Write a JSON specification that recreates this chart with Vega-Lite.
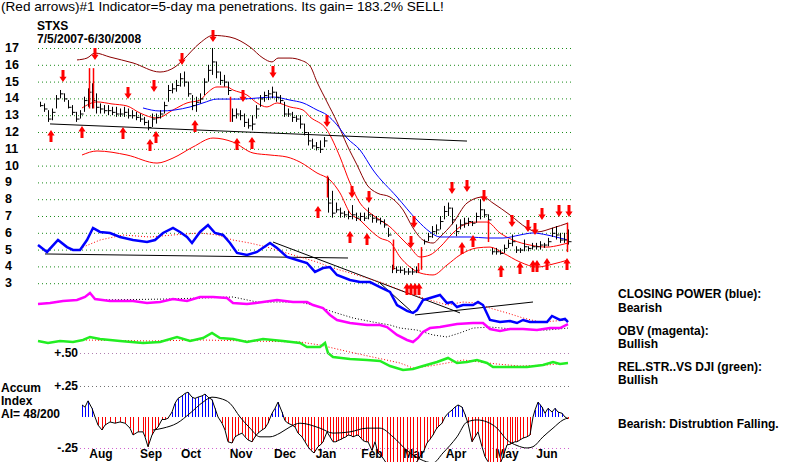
{
"$schema":"https://vega.github.io/schema/vega-lite/v6.json",
"width":800,"height":462,"padding":0,
"autosize":{"type":"fit","contains":"padding"},
"background":"white",
"config":{"view":{"stroke":null},"axis":{"disable":true},"legend":{"disable":true},"text":{"font":"Liberation Sans","fontSize":12,"fontWeight":"bold","color":"black"}},
"datasets":{
"grid":[{"v":17},{"v":16},{"v":15},{"v":14},{"v":13},{"v":12},{"v":11},{"v":10},{"v":9},{"v":8},{"v":7},{"v":6},{"v":5},{"v":4},{"v":3}],
"bars":[
{"d":1,"h":13.8,"l":13.5,"c":13.6},{"d":3,"h":13.7,"l":13.2,"c":13.4},{"d":5,"h":13.3,"l":12.6,"c":12.8},{"d":7,"h":13.4,"l":12.7,"c":13.2},{"d":9,"h":14.2,"l":13.4,"c":14.0},{"d":11,"h":14.5,"l":14.0,"c":14.3},{"d":13,"h":14.3,"l":13.8,"c":14.0},{"d":15,"h":13.9,"l":13.4,"c":13.5},{"d":17,"h":13.6,"l":13.0,"c":13.2},{"d":19,"h":13.2,"l":12.6,"c":12.8},
{"d":21,"h":13.3,"l":12.8,"c":13.1},{"d":23,"h":14.1,"l":13.2,"c":13.9},{"d":25,"h":14.6,"l":13.5,"c":14.4},{"d":27,"h":14.9,"l":13.4,"c":13.9},{"d":29,"h":14.3,"l":13.1,"c":13.5},{"d":31,"h":13.7,"l":13.1,"c":13.4},{"d":33,"h":13.6,"l":13.1,"c":13.3},{"d":35,"h":13.6,"l":13.0,"c":13.3},{"d":37,"h":13.5,"l":13.0,"c":13.2},{"d":39,"h":13.5,"l":12.9,"c":13.1},
{"d":41,"h":13.4,"l":12.9,"c":13.1},{"d":43,"h":13.5,"l":12.9,"c":13.2},{"d":45,"h":13.4,"l":12.8,"c":13.0},{"d":47,"h":13.3,"l":12.8,"c":13.0},{"d":49,"h":13.2,"l":12.7,"c":12.9},{"d":51,"h":13.1,"l":12.6,"c":12.8},{"d":53,"h":12.9,"l":12.4,"c":12.6},{"d":55,"h":12.7,"l":12.1,"c":12.3},{"d":57,"h":13.1,"l":12.3,"c":12.8},{"d":59,"h":13.1,"l":12.5,"c":12.9},
{"d":61,"h":13.3,"l":12.8,"c":13.1},{"d":63,"h":13.8,"l":13.1,"c":13.6},{"d":65,"h":14.8,"l":13.8,"c":14.5},{"d":67,"h":14.9,"l":14.3,"c":14.6},{"d":69,"h":15.1,"l":14.4,"c":14.8},{"d":71,"h":15.5,"l":14.7,"c":15.2},{"d":73,"h":15.6,"l":14.7,"c":15.0},{"d":75,"h":15.0,"l":14.1,"c":14.3},{"d":77,"h":14.2,"l":13.3,"c":13.6},{"d":79,"h":14.1,"l":13.2,"c":13.8},
{"d":81,"h":14.3,"l":13.7,"c":14.0},{"d":83,"h":15.2,"l":14.2,"c":15.0},{"d":85,"h":16.0,"l":15.0,"c":15.7},{"d":87,"h":17.0,"l":15.4,"c":16.2},{"d":89,"h":16.2,"l":15.2,"c":15.6},{"d":91,"h":15.6,"l":14.8,"c":15.1},{"d":93,"h":15.4,"l":14.7,"c":15.0},{"d":95,"h":15.0,"l":14.2,"c":14.5},{"d":97,"h":13.4,"l":12.6,"c":13.0},{"d":99,"h":13.4,"l":12.8,"c":13.1},
{"d":101,"h":13.3,"l":12.7,"c":13.0},{"d":103,"h":13.1,"l":12.3,"c":12.6},{"d":105,"h":12.8,"l":12.2,"c":12.4},{"d":107,"h":13.0,"l":12.1,"c":12.5},{"d":109,"h":13.6,"l":12.8,"c":13.4},{"d":111,"h":14.2,"l":13.5,"c":14.0},{"d":113,"h":14.4,"l":13.8,"c":14.2},{"d":115,"h":14.5,"l":13.9,"c":14.3},{"d":117,"h":14.7,"l":14.0,"c":14.4},{"d":119,"h":14.4,"l":13.8,"c":14.1},
{"d":121,"h":14.2,"l":13.7,"c":13.9},{"d":123,"h":13.8,"l":12.9,"c":13.1},{"d":125,"h":13.4,"l":12.9,"c":13.1},{"d":127,"h":13.2,"l":12.6,"c":12.9},{"d":129,"h":13.0,"l":12.6,"c":12.8},{"d":131,"h":13.0,"l":12.2,"c":12.5},{"d":133,"h":12.5,"l":11.8,"c":12.0},{"d":135,"h":12.0,"l":11.2,"c":11.5},{"d":137,"h":11.6,"l":11.0,"c":11.2},{"d":139,"h":11.4,"l":10.9,"c":11.1},
{"d":141,"h":11.5,"l":10.75,"c":11.0},{"d":143,"h":11.7,"l":11.1,"c":11.5},{"d":145,"h":9.3,"l":7.2,"c":7.8},{"d":147,"h":8.5,"l":6.9,"c":7.2},{"d":149,"h":7.8,"l":7.2,"c":7.4},{"d":151,"h":7.5,"l":6.9,"c":7.2},{"d":153,"h":7.3,"l":6.9,"c":7.1},{"d":155,"h":7.3,"l":6.8,"c":7.0},{"d":157,"h":7.65,"l":6.8,"c":7.1},{"d":159,"h":7.2,"l":6.7,"c":6.9},
{"d":161,"h":7.2,"l":6.7,"c":7.0},{"d":163,"h":7.2,"l":6.7,"c":6.9},{"d":165,"h":7.5,"l":6.8,"c":7.1},{"d":167,"h":7.1,"l":6.6,"c":6.9},{"d":169,"h":7.0,"l":6.6,"c":6.8},{"d":171,"h":6.9,"l":6.5,"c":6.7},{"d":173,"h":6.8,"l":6.3,"c":6.5},{"d":175,"h":6.3,"l":5.75,"c":5.9},{"d":177,"h":4.1,"l":3.6,"c":3.9},{"d":179,"h":4.0,"l":3.6,"c":3.8},
{"d":181,"h":4.0,"l":3.6,"c":3.8},{"d":183,"h":3.9,"l":3.5,"c":3.7},{"d":185,"h":3.9,"l":3.5,"c":3.7},{"d":187,"h":3.9,"l":3.5,"c":3.7},{"d":189,"h":4.0,"l":3.6,"c":3.8},{"d":193,"h":5.6,"l":5.3,"c":5.5},{"d":195,"h":6.0,"l":5.5,"c":5.8},{"d":197,"h":6.4,"l":5.7,"c":6.1},{"d":199,"h":6.5,"l":5.9,"c":6.2},
{"d":201,"h":7.0,"l":6.2,"c":6.7},{"d":203,"h":7.6,"l":6.8,"c":7.3},{"d":205,"h":7.8,"l":7.0,"c":7.5},{"d":207,"h":7.5,"l":6.5,"c":6.8},{"d":209,"h":6.5,"l":5.8,"c":6.1},{"d":211,"h":6.8,"l":6.2,"c":6.5},{"d":213,"h":6.9,"l":6.3,"c":6.6},{"d":215,"h":6.9,"l":6.4,"c":6.7},{"d":217,"h":6.7,"l":6.4,"c":6.6},{"d":219,"h":7.2,"l":6.6,"c":7.0},
{"d":221,"h":8.0,"l":6.8,"c":7.4},{"d":223,"h":7.4,"l":6.9,"c":7.1},{"d":225,"h":7.1,"l":6.5,"c":6.8},{"d":227,"h":5.1,"l":4.7,"c":4.9},{"d":229,"h":5.1,"l":4.7,"c":4.9},{"d":231,"h":5.0,"l":4.7,"c":4.8},{"d":233,"h":5.3,"l":4.8,"c":5.1},{"d":235,"h":5.6,"l":5.1,"c":5.4},{"d":237,"h":5.9,"l":5.2,"c":5.5},{"d":239,"h":5.2,"l":4.8,"c":5.0},
{"d":241,"h":5.1,"l":4.8,"c":5.0},{"d":243,"h":5.6,"l":4.9,"c":5.2},{"d":245,"h":5.2,"l":4.9,"c":5.1},{"d":247,"h":5.4,"l":5.0,"c":5.2},{"d":249,"h":5.4,"l":5.0,"c":5.2},{"d":251,"h":5.5,"l":5.0,"c":5.3},{"d":253,"h":5.4,"l":5.1,"c":5.3},{"d":255,"h":5.7,"l":5.2,"c":5.5},{"d":257,"h":6.3,"l":5.75,"c":6.0},{"d":259,"h":6.4,"l":5.6,"c":5.9},
{"d":261,"h":6.0,"l":5.4,"c":5.6},{"d":263,"h":6.0,"l":5.4,"c":5.6},{"d":265,"h":6.2,"l":5.3,"c":5.5}],
"redbars":[{"d":25.5,"h":15.8,"l":13.4},{"d":27.5,"h":15.8,"l":13.4},{"d":96,"h":14.1,"l":12.6},{"d":144.5,"h":9.4,"l":8.1},{"d":177.5,"h":5.6,"l":3.8},{"d":190,"h":4.2,"l":3.6},{"d":191.5,"h":5.15,"l":3.8},{"d":225,"h":6.76,"l":5.45},{"d":264.5,"h":6.6,"l":4.85}],
"thin":[
{"s":"upper","d":19.5,"v":16.29},{"s":"upper","d":24.5,"v":16.4},{"s":"upper","d":28.5,"v":16.7},{"s":"upper","d":36,"v":16.46},{"s":"upper","d":47.5,"v":16.11},{"s":"upper","d":61,"v":15.57},{"s":"upper","d":68.5,"v":15.87},{"s":"upper","d":72.5,"v":16.29},{"s":"upper","d":81,"v":17.3},{"s":"upper","d":87.5,"v":17.75},{"s":"upper","d":96,"v":17.65},{"s":"upper","d":106,"v":17.06},{"s":"upper","d":112.5,"v":16.4},{"s":"upper","d":117,"v":16.17},{"s":"upper","d":120,"v":16.4},{"s":"upper","d":126,"v":16.4},{"s":"upper","d":131,"v":16.29},{"s":"upper","d":136,"v":15.93},{"s":"upper","d":139.5,"v":14.98},{"s":"upper","d":144.5,"v":13.79},{"s":"upper","d":149.5,"v":12.6},{"s":"upper","d":154.5,"v":11.23},{"s":"upper","d":159.5,"v":10.04},{"s":"upper","d":164.5,"v":8.85},{"s":"upper","d":169.5,"v":8.37},{"s":"upper","d":176,"v":8.13},{"s":"upper","d":182.5,"v":7.36},{"s":"upper","d":187.5,"v":6.29},{"s":"upper","d":192.5,"v":5.57},{"s":"upper","d":197.5,"v":5.39},{"s":"upper","d":201,"v":5.75},{"s":"upper","d":207.5,"v":6.58},{"s":"upper","d":214.5,"v":7.77},{"s":"upper","d":222.5,"v":8.13},{"s":"upper","d":227.5,"v":7.77},{"s":"upper","d":236,"v":7.06},{"s":"upper","d":244.5,"v":6.29},{"s":"upper","d":249.5,"v":6.05},{"s":"upper","d":257.5,"v":6.29},{"s":"upper","d":265,"v":6.58},
{"s":"ma","d":22,"v":13.43},{"s":"ma","d":29.5,"v":13.79},{"s":"ma","d":37,"v":13.67},{"s":"ma","d":44.5,"v":13.55},{"s":"ma","d":51,"v":13.13},{"s":"ma","d":59.5,"v":12.83},{"s":"ma","d":67.5,"v":13.31},{"s":"ma","d":74.5,"v":13.73},{"s":"ma","d":81,"v":13.9},{"s":"ma","d":84.5,"v":14.32},{"s":"ma","d":89.5,"v":14.68},{"s":"ma","d":94.5,"v":14.68},{"s":"ma","d":97.5,"v":14.5},{"s":"ma","d":104.5,"v":14.2},{"s":"ma","d":109.5,"v":13.73},{"s":"ma","d":114.5,"v":13.49},{"s":"ma","d":119.5,"v":13.73},{"s":"ma","d":126,"v":13.49},{"s":"ma","d":132.5,"v":13.31},{"s":"ma","d":136,"v":12.9},{"s":"ma","d":144.5,"v":12.12},{"s":"ma","d":151,"v":10.51},{"s":"ma","d":156,"v":8.96},{"s":"ma","d":161,"v":7.77},{"s":"ma","d":166,"v":7.18},{"s":"ma","d":171,"v":6.76},{"s":"ma","d":176,"v":6.35},{"s":"ma","d":181,"v":5.75},{"s":"ma","d":186,"v":5.15},{"s":"ma","d":191,"v":4.56},{"s":"ma","d":196,"v":4.68},{"s":"ma","d":201,"v":5.15},{"s":"ma","d":207.5,"v":5.99},{"s":"ma","d":212.5,"v":6.46},{"s":"ma","d":219.5,"v":6.64},{"s":"ma","d":224.5,"v":6.64},{"s":"ma","d":231,"v":5.99},{"s":"ma","d":237.5,"v":5.57},{"s":"ma","d":246,"v":5.27},{"s":"ma","d":254.5,"v":5.15},{"s":"ma","d":261,"v":5.27},{"s":"ma","d":265,"v":5.39},
{"s":"lower","d":22,"v":10.63},{"s":"lower","d":29.5,"v":10.87},{"s":"lower","d":44.5,"v":10.63},{"s":"lower","d":59.5,"v":10.15},{"s":"lower","d":67.5,"v":10.45},{"s":"lower","d":77.5,"v":11.11},{"s":"lower","d":87.5,"v":11.64},{"s":"lower","d":97.5,"v":11.4},{"s":"lower","d":107.5,"v":10.75},{"s":"lower","d":116,"v":10.63},{"s":"lower","d":124.5,"v":10.51},{"s":"lower","d":131,"v":10.21},{"s":"lower","d":139.5,"v":9.56},{"s":"lower","d":146,"v":9.14},{"s":"lower","d":151,"v":8.37},{"s":"lower","d":156,"v":7.18},{"s":"lower","d":161,"v":6.76},{"s":"lower","d":166,"v":6.17},{"s":"lower","d":171,"v":5.69},{"s":"lower","d":176,"v":5.45},{"s":"lower","d":181,"v":4.56},{"s":"lower","d":186,"v":3.96},{"s":"lower","d":191,"v":3.61},{"s":"lower","d":197.5,"v":3.49},{"s":"lower","d":204.5,"v":4.08},{"s":"lower","d":211,"v":4.68},{"s":"lower","d":219.5,"v":5.1},{"s":"lower","d":226,"v":5.15},{"s":"lower","d":232.5,"v":4.8},{"s":"lower","d":241,"v":4.26},{"s":"lower","d":249.5,"v":3.96},{"s":"lower","d":257.5,"v":4.14},{"s":"lower","d":265,"v":4.38},
{"s":"bma","d":52.5,"v":13.43},{"s":"bma","d":61,"v":13.25},{"s":"bma","d":76,"v":13.49},{"s":"bma","d":82.5,"v":13.73},{"s":"bma","d":89.5,"v":13.96},{"s":"bma","d":101,"v":13.96},{"s":"bma","d":109.5,"v":14.02},{"s":"bma","d":117.5,"v":14.08},{"s":"bma","d":126,"v":13.9},{"s":"bma","d":132.5,"v":13.73},{"s":"bma","d":139.5,"v":13.31},{"s":"bma","d":144.5,"v":13.01},{"s":"bma","d":149.5,"v":12.42},{"s":"bma","d":154.5,"v":11.64},{"s":"bma","d":161,"v":10.93},{"s":"bma","d":167.5,"v":9.74},{"s":"bma","d":179.5,"v":8.13},{"s":"bma","d":189.5,"v":6.76},{"s":"bma","d":196,"v":6.05},{"s":"bma","d":201,"v":5.75},{"s":"bma","d":207.5,"v":5.75},{"s":"bma","d":216,"v":5.75},{"s":"bma","d":224.5,"v":5.69},{"s":"bma","d":232.5,"v":5.69},{"s":"bma","d":241,"v":5.87},{"s":"bma","d":247.5,"v":5.99},{"s":"bma","d":254.5,"v":5.87},{"s":"bma","d":261,"v":5.69},{"s":"bma","d":265,"v":5.57}],
"thick":[
{"s":"cp","d":0,"v":5.27},{"s":"cp","d":4.5,"v":4.86},{"s":"cp","d":10,"v":5.57},{"s":"cp","d":14.5,"v":5.15},{"s":"cp","d":17.5,"v":4.98},{"s":"cp","d":21,"v":4.98},{"s":"cp","d":24.5,"v":5.57},{"s":"cp","d":27.5,"v":6.29},{"s":"cp","d":31,"v":6.05},{"s":"cp","d":36,"v":5.99},{"s":"cp","d":41,"v":5.75},{"s":"cp","d":47.5,"v":5.57},{"s":"cp","d":54.5,"v":5.45},{"s":"cp","d":58.5,"v":5.57},{"s":"cp","d":62.5,"v":5.99},{"s":"cp","d":67.5,"v":6.29},{"s":"cp","d":71,"v":6.05},{"s":"cp","d":74.5,"v":5.75},{"s":"cp","d":77,"v":5.39},{"s":"cp","d":81,"v":6.05},{"s":"cp","d":85,"v":6.46},{"s":"cp","d":88.5,"v":5.99},{"s":"cp","d":92.5,"v":5.87},{"s":"cp","d":96,"v":5.39},{"s":"cp","d":99.5,"v":4.8},{"s":"cp","d":104.5,"v":4.68},{"s":"cp","d":109.5,"v":4.86},{"s":"cp","d":116,"v":5.39},{"s":"cp","d":119.5,"v":5.1},{"s":"cp","d":124.5,"v":4.56},{"s":"cp","d":129.5,"v":4.38},{"s":"cp","d":134.5,"v":4.2},{"s":"cp","d":138.5,"v":3.67},{"s":"cp","d":142.5,"v":3.9},{"s":"cp","d":146,"v":3.96},{"s":"cp","d":149.5,"v":3.49},{"s":"cp","d":156,"v":3.19},{"s":"cp","d":161,"v":3.07},{"s":"cp","d":166,"v":3.07},{"s":"cp","d":171,"v":2.77},{"s":"cp","d":176,"v":2.48},{"s":"cp","d":179.5,"v":1.7},{"s":"cp","d":184.5,"v":1.35},{"s":"cp","d":187.5,"v":1.23},{"s":"cp","d":189.5,"v":1.4},{"s":"cp","d":192.5,"v":2.0},{"s":"cp","d":196,"v":2.12},{"s":"cp","d":201,"v":2.3},{"s":"cp","d":204.5,"v":1.82},{"s":"cp","d":207,"v":1.88},{"s":"cp","d":209.5,"v":1.58},{"s":"cp","d":212.5,"v":1.7},{"s":"cp","d":217.5,"v":1.7},{"s":"cp","d":220,"v":1.88},{"s":"cp","d":222.5,"v":1.7},{"s":"cp","d":226,"v":0.81},{"s":"cp","d":231,"v":0.69},{"s":"cp","d":236,"v":0.75},{"s":"cp","d":239.5,"v":0.63},{"s":"cp","d":242.5,"v":0.81},{"s":"cp","d":246,"v":0.69},{"s":"cp","d":251,"v":0.69},{"s":"cp","d":254.5,"v":0.69},{"s":"cp","d":257,"v":1.05},{"s":"cp","d":261,"v":0.81},{"s":"cp","d":263.5,"v":0.87},{"s":"cp","d":265,"v":0.69},
{"s":"obv","d":0,"v":1.76},{"s":"obv","d":6,"v":1.82},{"s":"obv","d":12.5,"v":1.94},{"s":"obv","d":19.5,"v":2.0},{"s":"obv","d":23.5,"v":2.18},{"s":"obv","d":26,"v":2.42},{"s":"obv","d":28.5,"v":2.06},{"s":"obv","d":36,"v":1.94},{"s":"obv","d":47.5,"v":1.94},{"s":"obv","d":54.5,"v":1.82},{"s":"obv","d":61,"v":1.88},{"s":"obv","d":67.5,"v":2.06},{"s":"obv","d":74.5,"v":1.94},{"s":"obv","d":81,"v":2.18},{"s":"obv","d":87.5,"v":2.18},{"s":"obv","d":94.5,"v":2.12},{"s":"obv","d":97.5,"v":1.82},{"s":"obv","d":104.5,"v":1.76},{"s":"obv","d":112.5,"v":1.88},{"s":"obv","d":119.5,"v":2.0},{"s":"obv","d":127.5,"v":1.88},{"s":"obv","d":134.5,"v":1.88},{"s":"obv","d":137.5,"v":1.7},{"s":"obv","d":142.5,"v":1.52},{"s":"obv","d":146,"v":1.11},{"s":"obv","d":149.5,"v":0.81},{"s":"obv","d":156,"v":0.63},{"s":"obv","d":164.5,"v":0.51},{"s":"obv","d":171,"v":0.51},{"s":"obv","d":174.5,"v":0.39},{"s":"obv","d":179.5,"v":-0.08},{"s":"obv","d":184.5,"v":-0.38},{"s":"obv","d":187.5,"v":-0.5},{"s":"obv","d":190,"v":-0.26},{"s":"obv","d":192.5,"v":0.1},{"s":"obv","d":196,"v":0.33},{"s":"obv","d":201,"v":0.39},{"s":"obv","d":209.5,"v":0.57},{"s":"obv","d":217.5,"v":0.63},{"s":"obv","d":222.5,"v":0.63},{"s":"obv","d":226,"v":0.27},{"s":"obv","d":231,"v":0.15},{"s":"obv","d":236,"v":0.27},{"s":"obv","d":242.5,"v":0.27},{"s":"obv","d":249.5,"v":0.21},{"s":"obv","d":256,"v":0.33},{"s":"obv","d":261,"v":0.33},{"s":"obv","d":265,"v":0.57},
{"s":"rs","d":0,"v":-0.44},{"s":"rs","d":5,"v":-0.56},{"s":"rs","d":11,"v":-0.44},{"s":"rs","d":17.5,"v":-0.5},{"s":"rs","d":22.5,"v":-0.38},{"s":"rs","d":26,"v":-0.2},{"s":"rs","d":31,"v":-0.32},{"s":"rs","d":41,"v":-0.44},{"s":"rs","d":52.5,"v":-0.56},{"s":"rs","d":61,"v":-0.5},{"s":"rs","d":69.5,"v":-0.2},{"s":"rs","d":76,"v":-0.44},{"s":"rs","d":82.5,"v":-0.26},{"s":"rs","d":87,"v":0.04},{"s":"rs","d":91,"v":-0.26},{"s":"rs","d":97.5,"v":-0.32},{"s":"rs","d":104.5,"v":-0.5},{"s":"rs","d":112.5,"v":-0.32},{"s":"rs","d":122.5,"v":-0.44},{"s":"rs","d":131,"v":-0.56},{"s":"rs","d":134.5,"v":-0.8},{"s":"rs","d":141,"v":-0.8},{"s":"rs","d":143.5,"v":-0.56},{"s":"rs","d":145,"v":-1.15},{"s":"rs","d":147.5,"v":-1.39},{"s":"rs","d":156,"v":-1.51},{"s":"rs","d":164.5,"v":-1.57},{"s":"rs","d":171,"v":-1.63},{"s":"rs","d":176,"v":-1.93},{"s":"rs","d":182.5,"v":-2.17},{"s":"rs","d":187.5,"v":-2.11},{"s":"rs","d":192.5,"v":-1.93},{"s":"rs","d":199.5,"v":-1.69},{"s":"rs","d":205,"v":-1.45},{"s":"rs","d":209.5,"v":-1.75},{"s":"rs","d":214.5,"v":-1.69},{"s":"rs","d":219.5,"v":-1.57},{"s":"rs","d":224.5,"v":-1.75},{"s":"rs","d":227.5,"v":-1.99},{"s":"rs","d":234.5,"v":-1.99},{"s":"rs","d":244.5,"v":-1.99},{"s":"rs","d":252.5,"v":-1.87},{"s":"rs","d":257.5,"v":-1.69},{"s":"rs","d":261,"v":-1.81},{"s":"rs","d":265,"v":-1.75}],
"dotted":[
{"s":"cpma","d":22.5,"v":5.15},{"s":"cpma","d":31,"v":5.57},{"s":"cpma","d":42.5,"v":5.87},{"s":"cpma","d":56,"v":5.75},{"s":"cpma","d":67.5,"v":5.87},{"s":"cpma","d":81,"v":5.99},{"s":"cpma","d":89.5,"v":5.87},{"s":"cpma","d":97.5,"v":5.57},{"s":"cpma","d":106,"v":5.39},{"s":"cpma","d":114.5,"v":5.15},{"s":"cpma","d":122.5,"v":4.86},{"s":"cpma","d":131,"v":4.56},{"s":"cpma","d":139.5,"v":4.26},{"s":"cpma","d":147.5,"v":3.9},{"s":"cpma","d":156,"v":3.61},{"s":"cpma","d":164.5,"v":3.31},{"s":"cpma","d":172.5,"v":3.01},{"s":"cpma","d":181,"v":2.6},{"s":"cpma","d":187.5,"v":2.3},{"s":"cpma","d":196,"v":2.0},{"s":"cpma","d":204.5,"v":1.7},{"s":"cpma","d":212.5,"v":1.88},{"s":"cpma","d":219.5,"v":1.82},{"s":"cpma","d":226,"v":1.52},{"s":"cpma","d":234.5,"v":1.23},{"s":"cpma","d":242.5,"v":0.93},{"s":"cpma","d":251,"v":0.69},{"s":"cpma","d":258.5,"v":0.75},{"s":"cpma","d":265,"v":0.81},
{"s":"obvma","d":31,"v":2.0},{"s":"obvma","d":66,"v":2.06},{"s":"obvma","d":97.5,"v":2.18},{"s":"obvma","d":109.5,"v":1.88},{"s":"obvma","d":131,"v":1.88},{"s":"obvma","d":141,"v":1.58},{"s":"obvma","d":147.5,"v":1.29},{"s":"obvma","d":157.5,"v":0.93},{"s":"obvma","d":167.5,"v":0.69},{"s":"obvma","d":176,"v":0.51},{"s":"obvma","d":181,"v":0.33},{"s":"obvma","d":189.5,"v":0.21},{"s":"obvma","d":197.5,"v":-0.08},{"s":"obvma","d":204.5,"v":-0.2},{"s":"obvma","d":211,"v":0.04},{"s":"obvma","d":217.5,"v":0.33},{"s":"obvma","d":226,"v":0.39},{"s":"obvma","d":237.5,"v":0.27},{"s":"obvma","d":254.5,"v":0.21},{"s":"obvma","d":265,"v":0.33},
{"s":"rsma","d":22.5,"v":-0.38},{"s":"rsma","d":56,"v":-0.44},{"s":"rsma","d":81,"v":-0.38},{"s":"rsma","d":106,"v":-0.44},{"s":"rsma","d":131,"v":-0.5},{"s":"rsma","d":141,"v":-0.68},{"s":"rsma","d":156,"v":-1.1},{"s":"rsma","d":169.5,"v":-1.45},{"s":"rsma","d":181,"v":-1.75},{"s":"rsma","d":187.5,"v":-2.05},{"s":"rsma","d":196,"v":-1.93},{"s":"rsma","d":204.5,"v":-1.75},{"s":"rsma","d":212.5,"v":-1.57},{"s":"rsma","d":221,"v":-1.69},{"s":"rsma","d":229.5,"v":-1.81},{"s":"rsma","d":241,"v":-1.93},{"s":"rsma","d":254.5,"v":-1.87},{"s":"rsma","d":265,"v":-1.75}],
"segs":[{"d":6,"v":12.48,"d2":214.5,"v2":11.46},{"d":3.5,"v":4.74,"d2":155,"v2":4.5},{"d":117.5,"v":5.45,"d2":211,"v2":1.23},{"d":171,"v":3.01,"d2":187.5,"v2":1.23},{"d":188.5,"v":1.11,"d2":247.5,"v2":1.88}],
"arrows":[
{"dir":"down","d":12.5,"v":15.33},{"dir":"down","d":28.5,"v":16.64},{"dir":"down","d":45,"v":14.32},{"dir":"down","d":58,"v":14.74},{"dir":"down","d":72,"v":16.35},{"dir":"down","d":87.5,"v":17.71},{"dir":"down","d":102.5,"v":14.14},{"dir":"down","d":117.5,"v":15.57},{"dir":"down","d":144.5,"v":12.65},{"dir":"down","d":157,"v":8.43},{"dir":"down","d":165.5,"v":8.13},{"dir":"down","d":188,"v":6.64},{"dir":"down","d":186.5,"v":5.45},{"dir":"down","d":207,"v":8.67},{"dir":"down","d":214.5,"v":8.79},{"dir":"down","d":223,"v":8.19},{"dir":"down","d":237,"v":6.7},{"dir":"down","d":245,"v":6.4},{"dir":"down","d":248.5,"v":6.23},{"dir":"down","d":252,"v":7.12},{"dir":"down","d":260.5,"v":7.3},{"dir":"down","d":265.5,"v":7.3},
{"dir":"up","d":6.5,"v":11.76},{"dir":"up","d":22,"v":12.0},{"dir":"up","d":42.5,"v":11.94},{"dir":"up","d":56,"v":11.23},{"dir":"up","d":59,"v":11.7},{"dir":"up","d":78.5,"v":12.36},{"dir":"up","d":99.5,"v":11.29},{"dir":"up","d":107,"v":11.35},{"dir":"up","d":140,"v":7.24},{"dir":"up","d":156,"v":5.75},{"dir":"up","d":164.5,"v":5.63},{"dir":"up","d":184.5,"v":2.65},{"dir":"up","d":186.5,"v":2.65},{"dir":"up","d":188.5,"v":2.65},{"dir":"up","d":190.5,"v":2.65},{"dir":"up","d":212,"v":5.09},{"dir":"up","d":217.5,"v":5.51},{"dir":"up","d":231.5,"v":3.73},{"dir":"up","d":241,"v":3.9},{"dir":"up","d":247.5,"v":4.02},{"dir":"up","d":249.5,"v":4.02},{"dir":"up","d":254.5,"v":4.14},{"dir":"up","d":264.5,"v":4.14}],
"title":[{"t":"(Red arrows)#1 Indicator=5-day ma penetrations. Its gain= 183.2% SELL!","d":-18.5,"v":19.2}],
"labels":[{"t":"STXS","d":-0.5,"v":18.07},{"t":"7/5/2007-6/30/2008","d":-0.5,"v":17.32},{"t":"Accum","d":-18.5,"v":-3.476},{"t":"Index","d":-18.5,"v":-4.25},{"t":"AI= 48/200","d":-18.5,"v":-5.02},{"t":"CLOSING POWER (blue):","d":290,"v":2.12},{"t":"Bearish","d":290,"v":1.29},{"t":"OBV (magenta):","d":290,"v":-0.08},{"t":"Bullish","d":290,"v":-0.86},{"t":"REL.STR..VS DJI (green):","d":290,"v":-2.23},{"t":"Bullish","d":290,"v":-3.0},{"t":"Bearish: Distrubtion Falling.","d":290,"v":-5.62}],
"months":[{"m":"Aug","d":31.5},{"m":"Sep","d":56.5},{"m":"Oct","d":76.5},{"m":"Nov","d":101.5},{"m":"Dec","d":123.5},{"m":"Jan","d":144},{"m":"Feb","d":167},{"m":"Mar","d":188},{"m":"Apr","d":209},{"m":"May","d":234.5},{"m":"Jun","d":254.5}],
"ailev":[{"lbl":"+.50","a":0.516},{"lbl":"+.25","a":0.25},{"lbl":"-.25","a":-0.25}],
"ai":[{"d":22,"a":0.097},{"d":23.5,"a":0.08},{"d":25,"a":0.13},{"d":27,"a":0.07},{"d":28.5,"a":0.0},{"d":30,"a":-0.065},{"d":32,"a":-0.105},{"d":33.5,"a":-0.065},{"d":36,"a":-0.04},{"d":38.5,"a":-0.05},{"d":41,"a":-0.04},{"d":43.5,"a":-0.05},{"d":46,"a":-0.09},{"d":47.5,"a":-0.145},{"d":50,"a":-0.12},{"d":52.5,"a":-0.12},{"d":53.5,"a":-0.16},{"d":55,"a":-0.24},{"d":57,"a":-0.145},{"d":58.5,"a":-0.105},{"d":60,"a":-0.08},{"d":62,"a":-0.02},{"d":63.5,"a":-0.02},{"d":65,"a":-0.01},{"d":67,"a":0.04},{"d":68.5,"a":0.11},{"d":70,"a":0.15},{"d":72,"a":0.17},{"d":73.5,"a":0.19},{"d":75,"a":0.2},{"d":77,"a":0.16},{"d":78.5,"a":0.15},{"d":80,"a":0.16},{"d":82,"a":0.17},{"d":83.5,"a":0.185},{"d":85,"a":0.16},{"d":87,"a":0.14},{"d":88.5,"a":0.07},{"d":90,"a":0.0},{"d":92,"a":-0.05},{"d":93.5,"a":-0.105},{"d":95,"a":-0.2},{"d":97,"a":-0.21},{"d":98.5,"a":-0.16},{"d":100,"a":-0.145},{"d":102,"a":-0.13},{"d":103.5,"a":-0.16},{"d":105,"a":-0.185},{"d":107,"a":-0.2},{"d":108.5,"a":-0.16},{"d":110,"a":-0.13},{"d":112,"a":-0.105},{"d":113.5,"a":-0.09},{"d":115,"a":-0.05},{"d":117,"a":0.03},{"d":118.5,"a":0.07},{"d":120,"a":0.12},{"d":122,"a":0.04},{"d":123.5,"a":-0.03},{"d":125,"a":-0.05},{"d":127,"a":-0.065},{"d":128.5,"a":-0.08},{"d":130,"a":-0.13},{"d":132,"a":-0.16},{"d":133.5,"a":-0.2},{"d":135,"a":-0.24},{"d":136.5,"a":-0.27},{"d":138,"a":-0.29},{"d":140,"a":-0.24},{"d":141.5,"a":-0.22},{"d":142.5,"a":-0.2},{"d":144.5,"a":-0.12},{"d":146,"a":-0.16},{"d":147.5,"a":-0.2},{"d":149,"a":-0.2},{"d":150,"a":-0.19},{"d":151.5,"a":-0.18},{"d":152.5,"a":-0.17},{"d":154,"a":-0.16},{"d":155,"a":-0.145},{"d":156.5,"a":-0.15},{"d":157.5,"a":-0.16},{"d":159,"a":-0.15},{"d":160,"a":-0.145},{"d":161.5,"a":-0.17},{"d":162.5,"a":-0.19},{"d":164,"a":-0.2},{"d":165,"a":-0.2},{"d":167,"a":-0.27},{"d":168.5,"a":-0.2},{"d":170,"a":-0.29},{"d":172,"a":-0.32},{"d":174.5,"a":-0.38},{"d":176,"a":-0.38},{"d":177.5,"a":-0.38},{"d":179.5,"a":-0.38},{"d":181,"a":-0.38},{"d":182.5,"a":-0.38},{"d":184.5,"a":-0.38},{"d":186,"a":-0.38},{"d":187.5,"a":-0.38},{"d":189.5,"a":-0.36},{"d":191,"a":-0.32},{"d":193,"a":-0.27},{"d":194.5,"a":-0.21},{"d":196,"a":-0.18},{"d":197.5,"a":-0.145},{"d":199,"a":-0.1},{"d":200,"a":-0.08},{"d":202,"a":-0.05},{"d":203.5,"a":0.0},{"d":205,"a":0.03},{"d":207,"a":0.056},{"d":208.5,"a":0.08},{"d":210,"a":0.097},{"d":212,"a":0.08},{"d":213.5,"a":0.02},{"d":215,"a":-0.05},{"d":217,"a":-0.2},{"d":218.5,"a":-0.16},{"d":220,"a":-0.12},{"d":222,"a":-0.24},{"d":223.5,"a":-0.32},{"d":225,"a":-0.36},{"d":226,"a":-0.38},{"d":227.5,"a":-0.38},{"d":229.5,"a":-0.38},{"d":231,"a":-0.38},{"d":232.5,"a":-0.32},{"d":234.5,"a":-0.225},{"d":236,"a":-0.22},{"d":237,"a":-0.21},{"d":238.5,"a":-0.2},{"d":239.5,"a":-0.2},{"d":241,"a":-0.185},{"d":242.5,"a":-0.17},{"d":244.5,"a":-0.16},{"d":246,"a":-0.145},{"d":247.5,"a":0.0},{"d":248.5,"a":0.056},{"d":250,"a":0.12},{"d":251,"a":0.1},{"d":252,"a":0.08},{"d":253.5,"a":0.03},{"d":255,"a":0.07},{"d":257,"a":0.04},{"d":258.5,"a":0.07},{"d":260,"a":0.04},{"d":262,"a":0.03},{"d":263.5,"a":0.0},{"d":265,"a":-0.015}],
"aima":[{"d":57.5,"a":-0.105},{"d":62.5,"a":-0.09},{"d":69.5,"a":-0.05},{"d":76,"a":0.03},{"d":82.5,"a":0.12},{"d":87,"a":0.16},{"d":91,"a":0.15},{"d":96,"a":0.11},{"d":101,"a":0.0},{"d":106,"a":-0.09},{"d":111,"a":-0.16},{"d":116,"a":-0.16},{"d":121,"a":-0.13},{"d":126,"a":-0.08},{"d":131,"a":-0.05},{"d":141,"a":-0.09},{"d":147.5,"a":-0.13},{"d":156,"a":-0.12},{"d":164.5,"a":-0.09},{"d":171,"a":-0.09},{"d":177.5,"a":-0.16},{"d":184.5,"a":-0.27},{"d":191,"a":-0.34},{"d":197.5,"a":-0.37},{"d":202.5,"a":-0.29},{"d":209.5,"a":-0.16},{"d":214.5,"a":-0.04},{"d":219.5,"a":-0.024},{"d":224.5,"a":-0.04},{"d":229.5,"a":-0.09},{"d":234.5,"a":-0.185},{"d":239.5,"a":-0.23},{"d":244.5,"a":-0.25},{"d":247.5,"a":-0.24},{"d":252.5,"a":-0.16},{"d":257.5,"a":-0.09},{"d":262.5,"a":-0.024},{"d":265,"a":-0.008}]
},
"resolve":{"scale":{"y":"independent","color":"independent","shape":"independent"}},
"layer":[
{"resolve":{"scale":{"color":"independent"}},
 "layer":[
 {"data":{"name":"grid"},"mark":{"type":"rule","color":"#1a8a1a","strokeDash":[1,3],"strokeWidth":1,"yOffset":0.5},
  "encoding":{"x":{"datum":0,"type":"quantitative","scale":{"domain":[-19,381],"nice":false,"zero":false}},"x2":{"datum":267},
   "y":{"field":"v","type":"quantitative","scale":{"domain":[-7.643,19.857],"nice":false,"zero":false}}}},
 {"data":{"name":"grid"},"mark":{"type":"text","align":"left","baseline":"middle","fontSize":12.5},
  "encoding":{"x":{"datum":-16.5,"type":"quantitative","scale":{"domain":[-19,381],"nice":false,"zero":false}},
   "y":{"field":"v","type":"quantitative","scale":{"domain":[-7.643,19.857],"nice":false,"zero":false}},"text":{"field":"v","type":"quantitative"}}},
 {"data":{"name":"thin"},"mark":{"type":"line","strokeWidth":1,"interpolate":"monotone"},
  "encoding":{"x":{"field":"d","type":"quantitative","scale":{"domain":[-19,381],"nice":false,"zero":false}},
   "y":{"field":"v","type":"quantitative","scale":{"domain":[-7.643,19.857],"nice":false,"zero":false}},
   "color":{"field":"s","type":"nominal","scale":{"domain":["upper","ma","lower","bma"],"range":["#8b0000","#ff0000","#ff0000","#0000ff"]},"legend":null}}},
 {"data":{"name":"segs"},"mark":{"type":"rule","color":"black","strokeWidth":1},
  "encoding":{"x":{"field":"d","type":"quantitative","scale":{"domain":[-19,381],"nice":false,"zero":false}},"x2":{"field":"d2"},
   "y":{"field":"v","type":"quantitative","scale":{"domain":[-7.643,19.857],"nice":false,"zero":false}},"y2":{"field":"v2"}}},
 {"data":{"name":"dotted"},"mark":{"type":"line","strokeWidth":1,"strokeDash":[1,2]},
  "encoding":{"x":{"field":"d","type":"quantitative","scale":{"domain":[-19,381],"nice":false,"zero":false}},
   "y":{"field":"v","type":"quantitative","scale":{"domain":[-7.643,19.857],"nice":false,"zero":false}},
   "color":{"field":"s","type":"nominal","scale":{"domain":["cpma","obvma","rsma"],"range":["#ff0000","#000000","#ff0000"]},"legend":null}}},
 {"data":{"name":"thick"},"mark":{"type":"line","strokeWidth":2.5},
  "encoding":{"x":{"field":"d","type":"quantitative","scale":{"domain":[-19,381],"nice":false,"zero":false}},
   "y":{"field":"v","type":"quantitative","scale":{"domain":[-7.643,19.857],"nice":false,"zero":false}},
   "color":{"field":"s","type":"nominal","scale":{"domain":["cp","obv","rs"],"range":["#0000ff","#ff00ff","#22ee22"]},"legend":null}}},
 {"data":{"name":"bars"},"mark":{"type":"rule","color":"black","strokeWidth":1,"xOffset":0.5},
  "encoding":{"x":{"field":"d","type":"quantitative","scale":{"domain":[-19,381],"nice":false,"zero":false}},
   "y":{"field":"h","type":"quantitative","scale":{"domain":[-7.643,19.857],"nice":false,"zero":false}},"y2":{"field":"l"}}},
 {"data":{"name":"bars"},"mark":{"type":"tick","orient":"horizontal","size":3,"thickness":1,"xOffset":2,"yOffset":0.5,"color":"black","opacity":1},
  "encoding":{"x":{"field":"d","type":"quantitative","scale":{"domain":[-19,381],"nice":false,"zero":false}},
   "y":{"field":"c","type":"quantitative","scale":{"domain":[-7.643,19.857],"nice":false,"zero":false}}}},
 {"data":{"name":"redbars"},"mark":{"type":"rule","color":"#ff0000","strokeWidth":1.5,"xOffset":0.5},
  "encoding":{"x":{"field":"d","type":"quantitative","scale":{"domain":[-19,381],"nice":false,"zero":false}},
   "y":{"field":"h","type":"quantitative","scale":{"domain":[-7.643,19.857],"nice":false,"zero":false}},"y2":{"field":"l"}}},
 {"data":{"name":"arrows"},"mark":{"type":"point","filled":true,"color":"#ff0000","opacity":1,"size":144,"strokeWidth":0},
  "encoding":{"x":{"field":"d","type":"quantitative","scale":{"domain":[-19,381],"nice":false,"zero":false}},
   "y":{"field":"v","type":"quantitative","scale":{"domain":[-7.643,19.857],"nice":false,"zero":false}},
   "shape":{"field":"dir","type":"nominal","scale":{"domain":["down","up"],"range":["M-0.25,-1L0.25,-1L0.25,0.1L0.6,0.1L0,1L-0.6,0.1L-0.25,0.1Z","M-0.25,1L0.25,1L0.25,-0.1L0.6,-0.1L0,-1L-0.6,-0.1L-0.25,-0.1Z"]},"legend":null}}},
 {"data":{"name":"title"},"mark":{"type":"text","align":"left","baseline":"alphabetic","fontWeight":"normal","fontSize":13.6},
  "encoding":{"x":{"field":"d","type":"quantitative","scale":{"domain":[-19,381],"nice":false,"zero":false}},
   "y":{"field":"v","type":"quantitative","scale":{"domain":[-7.643,19.857],"nice":false,"zero":false}},"text":{"field":"t"}}},
 {"data":{"name":"labels"},"mark":{"type":"text","align":"left","baseline":"alphabetic"},
  "encoding":{"x":{"field":"d","type":"quantitative","scale":{"domain":[-19,381],"nice":false,"zero":false}},
   "y":{"field":"v","type":"quantitative","scale":{"domain":[-7.643,19.857],"nice":false,"zero":false}},"text":{"field":"t"}}},
 {"data":{"name":"months"},"mark":{"type":"text","align":"center","baseline":"alphabetic"},
  "encoding":{"x":{"field":"d","type":"quantitative","scale":{"domain":[-19,381],"nice":false,"zero":false}},
   "y":{"datum":-7.405,"type":"quantitative","scale":{"domain":[-7.643,19.857],"nice":false,"zero":false}},"text":{"field":"m"}}}
 ]},
{"layer":[
 {"data":{"name":"ailev"},"mark":{"type":"rule","strokeDash":[1,3],"strokeWidth":1,"yOffset":0.5},
  "encoding":{"x":{"datum":21,"type":"quantitative","scale":{"domain":[-19,381],"nice":false,"zero":false}},"x2":{"datum":267},
   "y":{"field":"a","type":"quantitative","scale":{"domain":[-0.363,3.363],"nice":false,"zero":false}},
   "color":{"field":"lbl","type":"nominal","scale":{"domain":["+.50","+.25","-.25"],"range":["#b080b0","#707070","#d060d0"]},"legend":null}}},
 {"data":{"name":"ailev"},"mark":{"type":"text","align":"right","baseline":"middle"},
  "encoding":{"x":{"datum":20,"type":"quantitative","scale":{"domain":[-19,381],"nice":false,"zero":false}},
   "y":{"field":"a","type":"quantitative","scale":{"domain":[-0.363,3.363],"nice":false,"zero":false}},"text":{"field":"lbl"}}},
 {"data":{"name":"ai"},"mark":{"type":"rule","strokeWidth":1,"xOffset":0.5,"clip":true},
  "encoding":{"x":{"field":"d","type":"quantitative","scale":{"domain":[-19,381],"nice":false,"zero":false}},
   "y":{"field":"a","type":"quantitative","scale":{"domain":[-0.363,3.363],"nice":false,"zero":false}},"y2":{"datum":0},
   "color":{"condition":{"test":"datum.a > 0","value":"#0000ff"},"value":"#ff0000"}}},
 {"data":{"name":"ai"},"mark":{"type":"line","strokeWidth":1,"color":"black","clip":true},
  "encoding":{"x":{"field":"d","type":"quantitative","scale":{"domain":[-19,381],"nice":false,"zero":false}},
   "y":{"field":"a","type":"quantitative","scale":{"domain":[-0.363,3.363],"nice":false,"zero":false}}}},
 {"data":{"name":"aima"},"mark":{"type":"line","strokeWidth":1,"color":"black","interpolate":"monotone","clip":true},
  "encoding":{"x":{"field":"d","type":"quantitative","scale":{"domain":[-19,381],"nice":false,"zero":false}},
   "y":{"field":"a","type":"quantitative","scale":{"domain":[-0.363,3.363],"nice":false,"zero":false}}}}
 ]}
]
}
